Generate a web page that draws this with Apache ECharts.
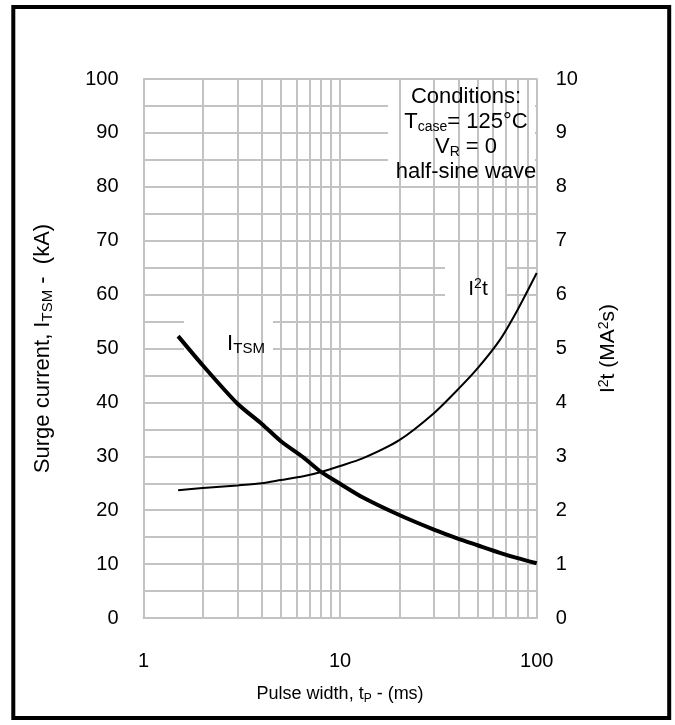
<!DOCTYPE html>
<html>
<head>
<meta charset="utf-8">
<script src="https://cdn.jsdelivr.net/npm/echarts@6/dist/echarts.min.js"></script>
<style>
  html, body { margin: 0; padding: 0; background: #fff; }
  #chart { width: 675px; height: 725px; }
</style>
</head>
<body>
<div id="chart"></div>
<script>
// Pulse width (ms), surge current ITSM (kA) and I²t (MA²s)
const pulseWidthMs = [1.5, 2.0, 3.0, 4.0, 5.0, 6.5, 8.0, 10, 13, 20, 30, 40, 50, 65, 80, 100];
const surgeCurrentKA = [52.3, 46.9, 39.8, 36.0, 32.8, 29.8, 27.1, 24.9, 22.4, 19.1, 16.4, 14.7, 13.5, 12.1, 11.1, 10.15];
const i2tMA2s = [2.37, 2.41, 2.46, 2.50, 2.56, 2.63, 2.71, 2.82, 2.96, 3.30, 3.80, 4.25, 4.63, 5.16, 5.72, 6.40];

// Intermediate decade lines of the log axis
const minorDecadeLines = [2, 3, 4, 5, 6, 7, 8, 9, 20, 30, 40, 50, 60, 70, 80, 90];

const FONT = 'Liberation Sans, Arial, sans-serif';
const GRID = '#c3c3c3';

const chart = echarts.init(document.getElementById('chart'), null, { renderer: 'canvas' });

const pairs = (xs, ys) => xs.map((x, i) => [x, ys[i]]);

const option = {
  animation: false,
  backgroundColor: '#fff',
  grid: { left: 143.5, right: 138.3, top: 79, bottom: 107, containLabel: false },
  xAxis: {
    type: 'log',
    logBase: 10,
    min: 1,
    max: 100,
    axisLine: { show: true, lineStyle: { color: GRID, width: 2 } },
    axisTick: { show: false },
    axisLabel: { fontSize: 20, color: '#000', fontFamily: FONT, margin: 33 },
    splitLine: { show: true, lineStyle: { color: GRID, width: 2 } },
    name: 'Pulse width, t{sub|P} - (ms)',
    nameLocation: 'middle',
    nameGap: 65,
    nameTextStyle: {
      fontSize: 18, color: '#000', fontFamily: FONT, lineHeight: 22,
      rich: { sub: { fontSize: 12, fontFamily: FONT, color: '#000', lineHeight: 11, verticalAlign: 'bottom' } }
    }
  },
  yAxis: [
    {
      type: 'value',
      position: 'left',
      min: 0,
      max: 100,
      interval: 10,
      axisLine: { show: true, lineStyle: { color: GRID, width: 2 } },
      axisTick: { show: false },
      axisLabel: { fontSize: 20, color: '#000', fontFamily: FONT, margin: 25 },
      splitLine: { show: true, lineStyle: { color: GRID, width: 2 } },
      minorTick: { show: false, splitNumber: 2 },
      minorSplitLine: { show: true, lineStyle: { color: GRID, width: 2 } },
      name: 'Surge current, I{sub|TSM} -  (kA)',
      nameLocation: 'middle',
      nameRotate: 90,
      nameGap: 88,
      nameTextStyle: {
        fontSize: 22, color: '#000', fontFamily: FONT, lineHeight: 25,
        rich: { sub: { fontSize: 15, fontFamily: FONT, color: '#000', lineHeight: 12, verticalAlign: 'bottom' } }
      }
    },
    {
      type: 'value',
      position: 'right',
      min: 0,
      max: 10,
      interval: 1,
      axisLine: { show: true, lineStyle: { color: GRID, width: 2 } },
      axisTick: { show: false },
      axisLabel: { fontSize: 20, color: '#000', fontFamily: FONT, margin: 19 },
      splitLine: { show: false },
      name: 'I{sup|2}t (MA{sup|2}s)',
      nameLocation: 'middle',
      nameRotate: 90,
      nameGap: 60,
      nameTextStyle: {
        fontSize: 21, color: '#000', fontFamily: FONT, lineHeight: 24,
        rich: { sup: { fontSize: 14, fontFamily: FONT, color: '#000', lineHeight: 12, verticalAlign: 'top' } }
      }
    }
  ],
  series: [
    {
      name: 'grid',
      type: 'line',
      data: [],
      z: 1,
      silent: true,
      markLine: {
        silent: true,
        symbol: 'none',
        label: { show: false },
        lineStyle: { color: GRID, width: 2, type: 'solid' },
        data: minorDecadeLines.map(v => ({ xAxis: v }))
      }
    },
    {
      name: 'I2t',
      type: 'line',
      yAxisIndex: 1,
      data: pairs(pulseWidthMs, i2tMA2s),
      smooth: 0.25,
      showSymbol: false,
      lineStyle: { color: '#000', width: 2 },
      z: 5
    },
    {
      name: 'ITSM',
      type: 'line',
      yAxisIndex: 0,
      data: pairs(pulseWidthMs, surgeCurrentKA),
      smooth: 0.25,
      showSymbol: false,
      lineStyle: { color: '#000', width: 4 },
      z: 6
    }
  ],
  graphic: [
    // outer frame
    {
      type: 'rect', z: 100, silent: true,
      shape: { x: 13.3, y: 6.9, width: 655.9, height: 711 },
      style: { fill: null, stroke: '#000', lineWidth: 4 }
    },
    // conditions box
    {
      type: 'rect', z: 2, silent: true,
      shape: { x: 388, y: 80, width: 147, height: 103 },
      style: { fill: '#fff' }
    },
    {
      type: 'text', z: 51, silent: true,
      x: 466, y: 84,
      style: {
        text: '{a|Conditions:}\n{a|T}{s|case}{a|= 125°C}\n{a|V}{s|R}{a| = 0}\n{a|half-sine wave}',
        align: 'center', verticalAlign: 'top',
        fill: '#000',
        font: '22px ' + FONT,
        rich: {
          a: { fontSize: 22, fontFamily: FONT, lineHeight: 25, fill: '#000' },
          s: { fontSize: 14, fontFamily: FONT, lineHeight: 12, verticalAlign: 'bottom', fill: '#000' }
        }
      }
    },
    // ITSM curve label
    {
      type: 'rect', z: 2, silent: true,
      shape: { x: 184, y: 320, width: 89, height: 38 },
      style: { fill: '#fff' }
    },
    {
      type: 'text', z: 51, silent: true,
      x: 246, y: 344,
      style: {
        text: '{a|I}{s|TSM}',
        align: 'center', verticalAlign: 'middle',
        fill: '#000',
        font: '22px ' + FONT,
        rich: {
          a: { fontSize: 22, fontFamily: FONT, lineHeight: 25, fill: '#000' },
          s: { fontSize: 15, fontFamily: FONT, lineHeight: 12, verticalAlign: 'bottom', fill: '#000' }
        }
      }
    },
    // I²t curve label
    {
      type: 'rect', z: 2, silent: true,
      shape: { x: 445, y: 258, width: 62, height: 59 },
      style: { fill: '#fff' }
    },
    {
      type: 'text', z: 51, silent: true,
      x: 478, y: 289,
      style: {
        text: '{a|I}{p|2}{a|t}',
        align: 'center', verticalAlign: 'middle',
        fill: '#000',
        font: '21px ' + FONT,
        rich: {
          a: { fontSize: 21, fontFamily: FONT, lineHeight: 24, fill: '#000' },
          p: { fontSize: 14, fontFamily: FONT, lineHeight: 12, verticalAlign: 'top', fill: '#000' }
        }
      }
    }
  ]
};

chart.setOption(option);
</script>
</body>
</html>
